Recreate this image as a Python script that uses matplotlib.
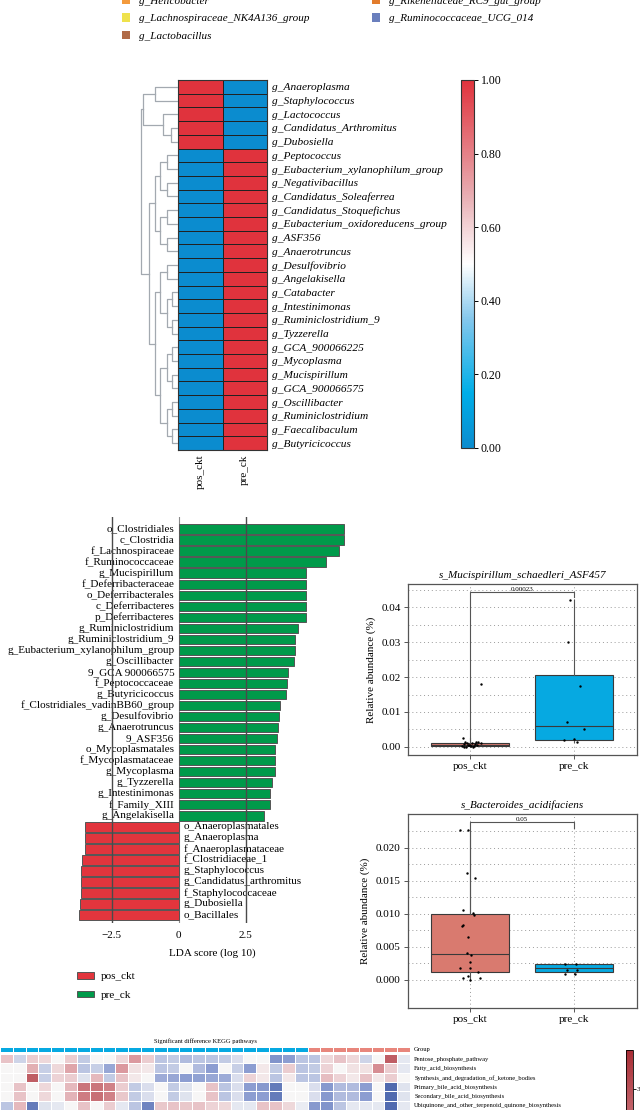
import numpy as np
import matplotlib
matplotlib.use("Agg")
import matplotlib.pyplot as plt
from matplotlib.colors import LinearSegmentedColormap
from matplotlib.patches import Patch

plt.rcParams["font.family"] = ["Liberation Serif", "DejaVu Serif"]

# ---- top legend (cropped) ----
legend_left = ["g_Helicobacter", "g_Lachnospiraceae_NK4A136_group", "g_Lactobacillus"]
legend_left_colors = ["#f39a3c", "#efe24c", "#b06b48"]
legend_right = ["g_Rikenellaceae_RC9_gut_group", "g_Ruminococcaceae_UCG_014"]
legend_right_colors = ["#e27c2c", "#6a7fbd"]

# ---- genus heatmap ----
genera = [
    "g_Anaeroplasma", "g_Staphylococcus", "g_Lactococcus", "g_Candidatus_Arthromitus",
    "g_Dubosiella", "g_Peptococcus", "g_Eubacterium_xylanophilum_group",
    "g_Negativibacillus", "g_Candidatus_Soleaferrea", "g_Candidatus_Stoquefichus",
    "g_Eubacterium_oxidoreducens_group", "g_ASF356", "g_Anaerotruncus",
    "g_Desulfovibrio", "g_Angelakisella", "g_Catabacter", "g_Intestinimonas",
    "g_Ruminiclostridium_9", "g_Tyzzerella", "g_GCA_900066225", "g_Mycoplasma",
    "g_Mucispirillum", "g_GCA_900066575", "g_Oscillibacter", "g_Ruminiclostridium",
    "g_Faecalibaculum", "g_Butyricicoccus",
]
heat_groups = ["pos_ckt", "pre_ck"]
pos_ckt_scaled = [1, 1, 1, 1, 1] + [0] * 22
pre_ck_scaled = [0, 0, 0, 0, 0] + [1] * 22
# dendrogram: (merge height, left, right), leaves are row indices
tree = (1.0,
        (0.95, (0.62, 0, 1), (0.40, 2, (0.20, 3, 4))),
        (0.78,
         (0.62, (0.49, (0.30, 5, 6), (0.30, 7, 8)),
                (0.49, (0.30, 9, 10), (0.30, 11, 12))),
         (0.62, (0.49, (0.30, 13, 14), (0.30, (0.17, 15, 16), (0.17, 17, 18))),
                (0.49, (0.30, (0.17, 19, 20), (0.17, 21, 22)),
                       (0.30, (0.17, 23, 24), (0.17, 25, 26))))))

# ---- LDA ----
lda_pre = [
    "o_Clostridiales", "c_Clostridia", "f_Lachnospiraceae", "f_Ruminococcaceae",
    "g_Mucispirillum", "f_Deferribacteraceae", "o_Deferribacterales",
    "c_Deferribacteres", "p_Deferribacteres", "g_Ruminiclostridium",
    "g_Ruminiclostridium_9", "g_Eubacterium_xylanophilum_group", "g_Oscillibacter",
    "9_GCA 900066575", "f_Peptococcaceae", "g_Butyricicoccus",
    "f_Clostridiales_vadinBB60_group", "g_Desulfovibrio", "g_Anaerotruncus",
    "9_ASF356", "o_Mycoplasmatales", "f_Mycoplasmataceae", "g_Mycoplasma",
    "g_Tyzzerella", "g_Intestinimonas", "f_Family_XIII", "g_Angelakisella",
]
lda_pre_scores = [6.17, 6.18, 5.97, 5.50, 4.74, 4.74, 4.74, 4.74, 4.74, 4.44, 4.34,
                  4.33, 4.30, 4.09, 4.04, 3.99, 3.78, 3.73, 3.69, 3.66, 3.59, 3.59,
                  3.59, 3.49, 3.39, 3.39, 3.18]
lda_pos = [
    "o_Anaeroplasmatales", "g_Anaeroplasma", "f_Anaeroplasmataceae",
    "f_Clostridiaceae_1", "g_Staphylococcus", "g_Candidatus_arthromitus",
    "f_Staphylococcaceae", "g_Dubosiella", "o_Bacillales",
]
lda_pos_scores = [-3.50, -3.50, -3.50, -3.60, -3.63, -3.63, -3.65, -3.68, -3.72]

# ---- box plots ----
box_groups = ["pos_ckt", "pre_ck"]
muc_q1 = [0.0003, 0.0020]
muc_med = [0.0007, 0.0060]
muc_q3 = [0.0011, 0.0205]
muc_lo = [0.0, 0.0015]
muc_hi = [0.0025, 0.0420]
muc_pos_vals = [0.0025, 0.0015, 0.0012, 0.0010, 0.0009, 0.0008, 0.0007, 0.0006, 0.0005,
                0.0004, 0.0003, 0.0002, 0.0001, 0.0, 0.0, 0.0015, 0.0014, 0.0010,
                0.0180, 0.0005]
muc_pos_jit = [-0.07, -0.05, 0.02, -0.03, 0.05, -0.06, 0.07, 0.0, -0.02, 0.04, -0.08,
               0.01, -0.04, -0.06, 0.03, 0.08, 0.06, 0.1, 0.1, -0.01]
muc_pre_vals = [0.042, 0.030, 0.0175, 0.007, 0.005, 0.002, 0.0022, 0.0015]
muc_pre_jit = [-0.04, -0.06, 0.055, -0.07, 0.09, -0.1, 0.0, 0.03]
muc_p = "0.00023"

bac_q1 = [0.0011, 0.0012]
bac_med = [0.0039, 0.0018]
bac_q3 = [0.0099, 0.0023]
bac_lo = [0.0, 0.0008]
bac_hi = [0.0225, 0.0023]
bac_pos_vals = [0.02265, 0.0226, 0.0162, 0.0154, 0.0105, 0.0101, 0.0098, 0.0083, 0.0082,
                0.0065, 0.0041, 0.0037, 0.0027, 0.0018, 0.0017, 0.0012, 0.0003, 0.0005,
                0.0, 0.0003]
bac_pos_jit = [-0.096, -0.02, -0.03, 0.05, -0.07, 0.03, 0.035, -0.07, -0.08, -0.016,
               -0.03, 0.006, 0.0, -0.1, 0.0, 0.08, -0.07, -0.016, 0.0, 0.09]
bac_pre_vals = [0.0023, 0.0023, 0.0014, 0.0014, 0.0008, 0.0008]
bac_pre_jit = [-0.09, 0.02, -0.07, 0.026, -0.087, 0.01]
bac_p = "0.05"

# ---- KEGG heatmap ----
kegg_paths = [
    "Pentose_phosphate_pathway", "Fatty_acid_biosynthesis",
    "Synthesis_and_degradation_of_ketone_bodies", "Primary_bile_acid_biosynthesis",
    "Secondary_bile_acid_biosynthesis", "Ubiquinone_and_other_terpenoid_quinone_biosynthesis",
]
kegg_group = [0] * 24 + [1] * 8
kegg_values = [
    [1.0, -0.7, 0.8, 0.6, 0, 0.8, -0.9, 0, 0, 0.6, 1.8, 0.8, -1.0, -0.9, -1.2, -1.0,
     -1.0, -0.9, -0.5, 0, 0, -2.0, -1.8, -1.0, -1.0, 0.6, 1.0, 0.6, -0.7, 0, 2.8, -0.3],
    [0, 0, 1.4, -0.8, 0.6, 1.6, -1.0, -0.8, -1.6, 1.8, 0.4, 0.3, -1.0, -0.9, 0, -1.2,
     -1.8, 0, -0.8, -1.8, 0.3, -0.9, 0.8, -1.0, -0.9, 0.7, 0, 0.4, 0.4, 2.0, 0.8, -0.3],
    [0, 0, 2.8, -0.8, 0.7, 0.8, -0.4, 1.2, -0.9, 1.0, 0.3, 0, -1.5, -1.6, -1.8, -1.7,
     -1.6, -1.5, -0.5, 0.7, 0.3, -1.0, 0.3, -1.0, -1.0, 1.1, 0.7, 0.3, 1.0, 0.3, 0.8, 0],
    [0, 1.0, 0, 0.6, 0, 1.2, 2.4, 2.4, 2.2, 0.8, -0.9, -0.5, 0, -0.9, -0.4, 0, 1.0,
     -1.0, -0.5, -1.8, -1.9, -2.6, 0, 0, -0.5, -1.9, -1.2, -1.2, -1.8, 0, -3.0, -0.4],
    [0, 1.0, 0, 0.6, 0, 1.3, 2.3, 2.5, 2.2, 0.9, -0.9, -0.5, 0, -0.9, -0.4, 0, 1.0,
     -1.0, -0.5, -1.8, -1.8, -2.6, 0, 0, -0.5, -1.9, -1.2, -1.2, -1.8, 0, -3.0, -0.4],
    [-1.0, 1.2, -2.6, -0.4, -0.3, 0, 1.0, 0, 0.8, -0.3, -1.0, -2.4, 0.9, 1.0, 0.9, 1.0,
     0.7, 0.6, -0.3, -0.3, 1.0, 1.0, 0.6, -0.2, -1.9, -2.0, -1.0, -0.3, -0.3, -0.3, -3.0, -0.3],
]

W, H = 640, 1110
RED = "#e2353d"
GREEN = "#009a4a"
SALMON = "#d97a6f"
CYAN = "#06a9e1"


def rect(l, t, r, b):
    return [l / W, 1 - b / H, (r - l) / W, (b - t) / H]


fig = plt.figure(figsize=(6.4, 11.1), dpi=100)

# top legend
for names, colors, x in [(legend_left, legend_left_colors, 122),
                         (legend_right, legend_right_colors, 372)]:
    handles = [Patch(facecolor=c, edgecolor="none") for c in colors]
    fig.legend(handles, names, loc="upper left", bbox_to_anchor=(x / W, 1 + 4 / H),
               frameon=False, borderpad=0, borderaxespad=0, handlelength=0.75,
               handleheight=0.75, handletextpad=0.8, labelspacing=0.68,
               prop={"style": "italic", "size": 8})

# genus heatmap
heat_cmap = LinearSegmentedColormap.from_list(
    "hm", [(0, "#0b8ccf"), (0.15, "#00aee8"), (0.35, "#84c7ec"), (0.5, "#ffffff"),
           (0.68, "#e8b0b5"), (1, "#e0333d")])
hm = np.column_stack([pos_ckt_scaled, pre_ck_scaled]).astype(float)
ax_h = fig.add_axes(rect(178, 80, 267, 450))
mesh = ax_h.pcolormesh(hm, cmap=heat_cmap, vmin=0, vmax=1, edgecolors="#222222",
                       linewidth=0.6)
ax_h.set_ylim(len(genera), 0)
ax_h.set_xlim(0, 2)
ax_h.yaxis.tick_right()
ax_h.set_yticks(np.arange(len(genera)) + 0.5)
ax_h.set_yticklabels(genera, fontstyle="italic", fontsize=8.2)
ax_h.set_xticks([0.5, 1.5])
ax_h.set_xticklabels(heat_groups, rotation=90, fontsize=8, va="top")
ax_h.tick_params(length=0, pad=3.5)
for s in ax_h.spines.values():
    s.set_linewidth(0.8)
    s.set_color("#333333")

ax_d = fig.add_axes(rect(139, 80, 178, 450))
ax_d.set_ylim(len(genera), 0)
ax_d.set_xlim(1.05, 0)
ax_d.axis("off")


def draw_node(node):
    if isinstance(node, int):
        return node + 0.5, 0.0
    h, left, right = node
    yl, hl = draw_node(left)
    yr, hr = draw_node(right)
    ax_d.plot([hl, h, h, hr], [yl, yl, yr, yr], color="#a3a9b0", lw=0.9)
    return (yl + yr) / 2, h


draw_node(tree)

cax = fig.add_axes(rect(461, 80, 474, 448))
cb = fig.colorbar(mesh, cax=cax, ticks=[0, 0.2, 0.4, 0.6, 0.8, 1.0], format="%.2f")
cb.outline.set_linewidth(0.8)
cb.outline.set_edgecolor("#333333")
cax.tick_params(labelsize=8.5, length=3, width=0.7, pad=2)

# LDA bars
ax_l = fig.add_axes(rect(71.5, 517, 352.9, 922.7))
names = lda_pre + lda_pos
scores = lda_pre_scores + lda_pos_scores
ypos = np.arange(len(names))
colors = [GREEN if v > 0 else RED for v in scores]
ax_l.barh(ypos, scores, height=0.86, color=colors, edgecolor="#555555", linewidth=0.7,
          zorder=2)
for y, name, v in zip(ypos, names, scores):
    if v > 0:
        ax_l.text(-0.17, y, name, ha="right", va="center", fontsize=8, zorder=1)
    else:
        ax_l.text(0.17, y, name, ha="left", va="center", fontsize=8, zorder=1)
for xv in (-2.5, 2.5):
    ax_l.axvline(xv, color="#4a4a4a", lw=1.0, zorder=3)
ax_l.axvline(0, color="#8a8a8a", lw=0.8, zorder=1)
ax_l.set_xlim(-4.0, 6.5)
ax_l.set_ylim(len(names) - 0.3, -1.1)
ax_l.set_yticks([])
ax_l.set_xticks([-2.5, 0, 2.5])
ax_l.set_xticklabels(["\u22122.5", "0", "2.5"], fontsize=8)
ax_l.tick_params(axis="x", length=0, pad=6)
ax_l.set_xlabel("LDA score (log 10)", fontsize=8, labelpad=6)
for s in ax_l.spines.values():
    s.set_visible(False)

lda_handles = [Patch(facecolor=RED, edgecolor="#555555", linewidth=0.7),
               Patch(facecolor=GREEN, edgecolor="#555555", linewidth=0.7)]
fig.legend(lda_handles, ["pos_ckt", "pre_ck"], loc="upper left",
           bbox_to_anchor=(77 / W, 1 - 972 / H), frameon=False, borderpad=0,
           borderaxespad=0, handlelength=1.55, handleheight=0.55, handletextpad=0.6,
           labelspacing=0.85, prop={"size": 8})


def box_panel(box_rect, title, q1, med, q3, lo, hi, pos_vals, pos_jit, pre_vals,
              pre_jit, ylim, major, minor, fmt, bracket, ptext):
    ax = fig.add_axes(rect(*box_rect))
    stats = []
    for i in range(2):
        stats.append({"med": med[i], "q1": q1[i], "q3": q3[i], "whislo": lo[i],
                      "whishi": hi[i], "fliers": []})
    bp = ax.bxp(stats, positions=[1, 2], widths=0.75, patch_artist=True,
                showcaps=False, showfliers=False)
    for patch, c in zip(bp["boxes"], [SALMON, CYAN]):
        patch.set_facecolor(c)
        patch.set_edgecolor("#3a3a3a")
        patch.set_linewidth(0.8)
        patch.set_zorder(2)
    for ln in bp["medians"]:
        ln.set_color("#3a3a3a")
        ln.set_linewidth(0.8)
        ln.set_zorder(3)
    for ln in bp["whiskers"]:
        ln.set_color("#555555")
        ln.set_linewidth(0.8)
    ax.scatter(1 + np.array(pos_jit), pos_vals, s=3, color="black", zorder=4,
               linewidths=0)
    ax.scatter(2 + np.array(pre_jit), pre_vals, s=3, color="black", zorder=4,
               linewidths=0)
    # significance bracket
    ax.plot([1, 1, 2, 2], [q3[0], bracket, bracket, bracket - (ylim[1] - ylim[0]) * 0.03],
            color="#555555", lw=0.8, zorder=3)
    ax.text(1.5, bracket, ptext, ha="center", va="bottom", fontsize=5)
    ax.set_xlim(0.4, 2.6)
    ax.set_ylim(*ylim)
    ax.set_yticks(major)
    ax.set_yticklabels([fmt % v for v in major], fontsize=8)
    ax.set_yticks(minor, minor=True)
    ax.tick_params(axis="y", which="minor", length=0)
    ax.set_xticks([1, 2])
    ax.set_xticklabels(box_groups, fontsize=8)
    ax.tick_params(axis="both", which="major", length=3, width=0.7, pad=2,
                   color="#555555")
    ax.grid(True, which="both", color="#9a9a9a", linestyle=(0, (1, 3)), lw=0.7)
    ax.set_axisbelow(True)
    ax.set_ylabel("Relative abundance (%)", fontsize=8, labelpad=4)
    ax.set_title(title, fontsize=8, fontstyle="italic", pad=4)
    for s in ax.spines.values():
        s.set_linewidth(0.9)
        s.set_color("#555555")
    return ax


box_panel((407.7, 584, 636.7, 755), "s_Mucispirillum_schaedleri_ASF457", muc_q1,
          muc_med, muc_q3, muc_lo, muc_hi, muc_pos_vals, muc_pos_jit, muc_pre_vals,
          muc_pre_jit, (-0.0023, 0.0466), [0, 0.01, 0.02, 0.03, 0.04],
          np.arange(0, 0.0451, 0.005), "%.2f", 0.0443, muc_p)
box_panel((407.7, 814, 636.7, 1008), "s_Bacteroides_acidifaciens", bac_q1, bac_med,
          bac_q3, bac_lo, bac_hi, bac_pos_vals, bac_pos_jit, bac_pre_vals, bac_pre_jit,
          (-0.0043, 0.0251), [0, 0.005, 0.01, 0.015, 0.02],
          np.arange(0, 0.02251, 0.0025), "%.3f", 0.0239, bac_p)

# KEGG heatmap
kegg_cmap = LinearSegmentedColormap.from_list(
    "kg", ["#34519f", "#8c9dd1", "#f7f7f7", "#dc9aa0", "#a82d35"])
group_cmap = LinearSegmentedColormap.from_list("gp", [CYAN, "#e8867c"])
ax_g = fig.add_axes(rect(0, 1047, 410, 1052))
ax_g.pcolormesh(np.array([kegg_group]), cmap=group_cmap, vmin=0, vmax=1,
                edgecolors="white", linewidth=0.5)
ax_g.set_xticks([])
ax_g.yaxis.tick_right()
ax_g.set_yticks([0.5])
ax_g.set_yticklabels(["Group"], fontsize=4.7)
ax_g.tick_params(length=0, pad=3)
for s in ax_g.spines.values():
    s.set_visible(False)
ax_g.set_title("Significant difference KEGG pathways", fontsize=4.7, pad=3)

ax_k = fig.add_axes(rect(0, 1054, 410, 1109.8))
km = ax_k.pcolormesh(np.array(kegg_values), cmap=kegg_cmap, vmin=-3.6, vmax=3.6,
                     edgecolors="white", linewidth=0.6)
ax_k.set_ylim(len(kegg_paths), 0)
ax_k.set_xticks([])
ax_k.yaxis.tick_right()
ax_k.set_yticks(np.arange(len(kegg_paths)) + 0.5)
ax_k.set_yticklabels(kegg_paths, fontsize=4.7)
ax_k.tick_params(length=0, pad=3)
for s in ax_k.spines.values():
    s.set_visible(False)

cax2 = fig.add_axes(rect(626, 1050, 633, 1518))
cb2 = fig.colorbar(km, cax=cax2, ticks=[3])
cb2.outline.set_linewidth(0.6)
cax2.tick_params(labelsize=5, length=2, width=0.6, pad=1)

fig.savefig("out.png", dpi=100)
